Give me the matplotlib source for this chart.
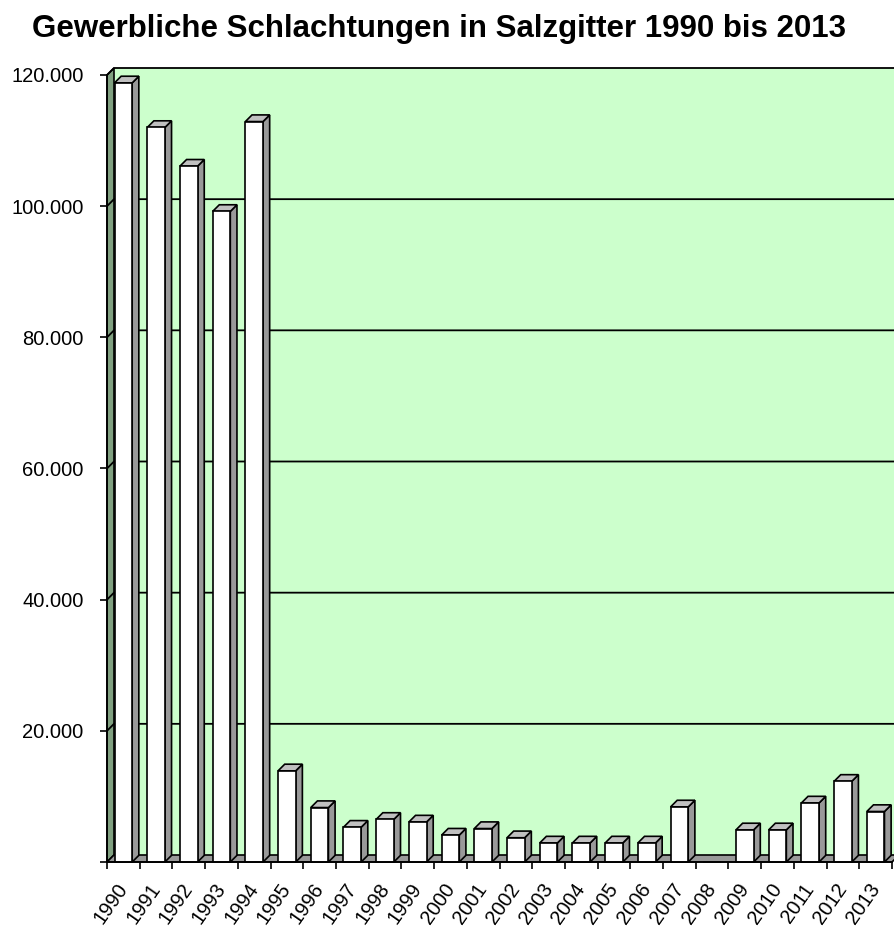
import matplotlib.pyplot as plt
from matplotlib.patches import Polygon
from matplotlib.transforms import ScaledTranslation

plt.rcParams['font.family'] = ['Liberation Sans', 'DejaVu Sans']

years = ['1990', '1991', '1992', '1993', '1994', '1995', '1996', '1997',
         '1998', '1999', '2000', '2001', '2002', '2003', '2004', '2005',
         '2006', '2007', '2008', '2009', '2010', '2011', '2012', '2013']
slaughters = [118800, 112000, 106100, 99200, 112900, 13900, 8300, 5300,
              6500, 6100, 4100, 5100, 3700, 2900, 2900, 2900,
              2900, 8400, 0, 4900, 4900, 9000, 12300, 7700]
y_ticks = [0, 20000, 40000, 60000, 80000, 100000, 120000]

wall_green = '#ccffcc'
side_green = '#80a080'
floor_grey = '#999999'
bar_side = '#999999'
bar_top = '#c0c0c0'

fig = plt.figure(figsize=(8.94, 9.27), dpi=100)
ax = fig.add_axes([107 / 894, 65 / 927, 785 / 894, 787 / 927])
ax.set_facecolor('none')

n = len(years)
ymax = y_ticks[-1]
ax.set_xlim(0, n)
ax.set_ylim(0, ymax)

# depth of the pseudo 3d box, 7 px, converted to data units
depth_px = 7
dx = depth_px / (785 / n)
dy = depth_px / (787 / ymax)

lw = 1.2
# back wall, left wall, floor
ax.add_patch(Polygon([(dx, dy), (n + dx, dy), (n + dx, ymax + dy), (dx, ymax + dy)],
                     closed=True, fc=wall_green, ec='none', clip_on=False, zorder=0))
ax.add_patch(Polygon([(0, 0), (dx, dy), (dx, ymax + dy), (0, ymax)],
                     closed=True, fc=side_green, ec='black', lw=lw, clip_on=False, zorder=1))
ax.add_patch(Polygon([(0, 0), (n, 0), (n + dx, dy), (dx, dy)],
                     closed=True, fc=floor_grey, ec='black', lw=lw, clip_on=False, zorder=1))

# gridlines on the walls
for v in y_ticks[1:]:
    ax.plot([0, dx, n + dx], [v, v + dy, v + dy], color='black', lw=1.3,
            clip_on=False, zorder=1, solid_joinstyle='miter')

# bars: front face through ax.bar, side and top as polygons
w = 0.54
centers = [i + 0.5 for i in range(n)]
bdx, bdy = dx * 0.95, dy * 0.95
for c, v in zip(centers, slaughters):
    if v <= 0:
        continue
    x0, x1 = c - w / 2, c + w / 2
    ax.add_patch(Polygon([(x1, 0), (x1 + bdx, bdy), (x1 + bdx, v + bdy), (x1, v)],
                         closed=True, fc=bar_side, ec='black', lw=lw, clip_on=False, zorder=2))
    ax.add_patch(Polygon([(x0, v), (x1, v), (x1 + bdx, v + bdy), (x0 + bdx, v + bdy)],
                         closed=True, fc=bar_top, ec='black', lw=lw, clip_on=False, zorder=2))
ax.bar(centers, slaughters, width=w, color='white', edgecolor='black', linewidth=lw,
       zorder=3, clip_on=False)

for s in ['top', 'right']:
    ax.spines[s].set_visible(False)
for s in ['left', 'bottom']:
    ax.spines[s].set_linewidth(1.3)
    ax.spines[s].set_zorder(4)

ax.set_yticks(y_ticks)
ax.set_yticklabels(['' if v == 0 else f'{v:,}'.replace(',', '.') for v in y_ticks],
                   fontsize=14.5)
ax.tick_params(axis='y', length=5, width=1.2, pad=12)

ax.set_xticks(range(n + 1))
ax.set_xticklabels([])
ax.tick_params(axis='x', which='major', length=5, width=1.2)
ax.set_xticks(centers, minor=True)
ax.set_xticklabels(years, minor=True, rotation=55, ha='right', va='top', fontsize=14.5)
ax.tick_params(axis='x', which='minor', length=0, pad=13)
shift = ScaledTranslation(8 / 100, 0, fig.dpi_scale_trans)
for lab in ax.get_xticklabels(minor=True):
    lab.set_transform(lab.get_transform() + shift)

fig.text(439 / 894, 1 - 29 / 927, 'Gewerbliche Schlachtungen in Salzgitter 1990 bis 2013',
         ha='center', va='center', fontsize=22.5, fontweight='bold')

fig.savefig('out.png', dpi=100)
